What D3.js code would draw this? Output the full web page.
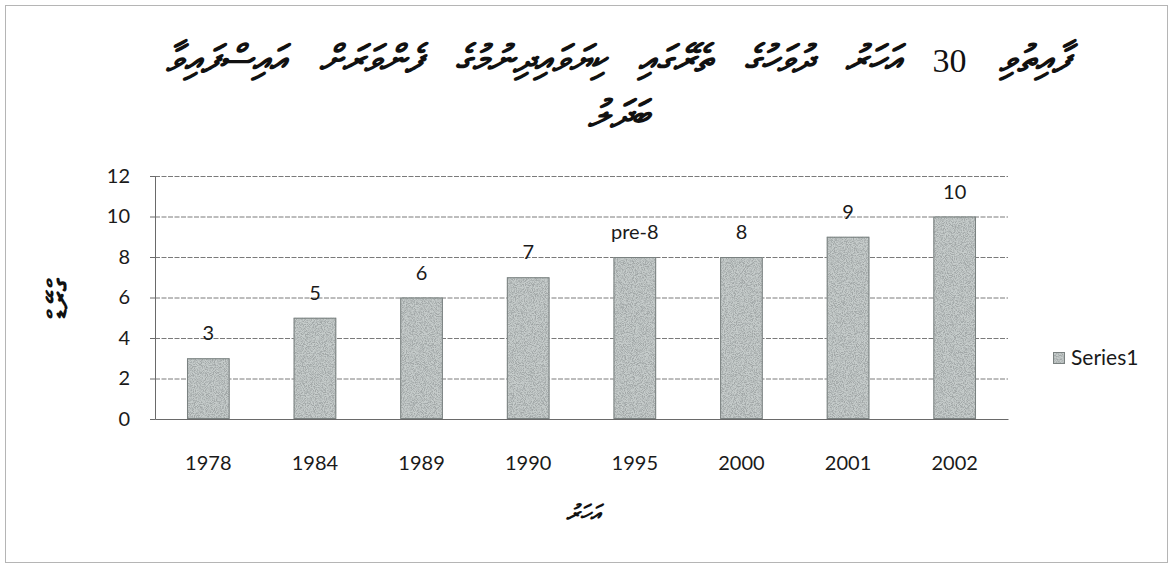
<!DOCTYPE html>
<html>
<head>
<meta charset="utf-8">
<script src="https://cdn.jsdelivr.net/npm/d3@7"></script>
<style>
  html, body { margin: 0; padding: 0; background: #ffffff; }
  svg { display: block; }
  .thaana { font-family: "MV Boli", "Faruma", "DejaVu Sans", "Noto Sans", sans-serif; }
  .lat { font-family: Lato, "Open Sans", "Liberation Sans", sans-serif; }
</style>
</head>
<body>
<svg id="chart" width="1174" height="569"></svg>
<script>
// ---- data ----
const categories = ["1978", "1984", "1989", "1990", "1995", "2000", "2001", "2002"];
const values = [3, 5, 6, 7, 8, 8, 9, 10];
const dataLabels = ["3", "5", "6", "7", "pre-8", "8", "9", "10"];
const yTicks = [0, 2, 4, 6, 8, 10, 12];
const seriesName = "Series1";
const titleParts = ["ފާއިތުވި ", "30", " އަހަރު ދުވަހުގެ ތެރޭގައި ކިޔަވައިދިނުމުގެ ފެންވަރަށް އައިސްފައިވާ"];
const titleLine2 = "ބަދަލު";
const xTitle = "އަހަރު";
const yTitle = "ގްރޭޑް";

const svg = d3.select("#chart");

// texture for bars
const defs = svg.append("defs");
const f = defs.append("filter").attr("id", "speckle").attr("x", 0).attr("y", 0).attr("width", 1).attr("height", 1);
f.append("feTurbulence").attr("type", "fractalNoise").attr("baseFrequency", 1.1).attr("numOctaves", 2).attr("seed", 7).attr("result", "noise");
f.append("feColorMatrix").attr("in", "noise").attr("type", "matrix")
  .attr("values", "0 0 0 0 0.36  0 0 0 0 0.39  0 0 0 0 0.39  0 0 0 -3.2 2.0").attr("result", "dots");
f.append("feFlood").attr("flood-color", "#c6cccb").attr("result", "base");
f.append("feComposite").attr("in", "dots").attr("in2", "base").attr("operator", "over").attr("result", "mix");
f.append("feComposite").attr("in", "mix").attr("in2", "SourceGraphic").attr("operator", "in");

// outer border
svg.append("rect").attr("x", 5.5).attr("y", 5.5).attr("width", 1162).attr("height", 557)
  .attr("fill", "none").attr("stroke", "#b5b5b5").attr("stroke-width", 1);

const x = d3.scaleBand().domain(categories).range([155, 1008]).paddingInner(0.6).paddingOuter(0.3);
const y = d3.scaleLinear().domain([0, 12]).range([419, 176]);

// gridlines
svg.append("g").selectAll("line").data(yTicks.filter(d => d > 0)).join("line")
  .attr("x1", 155).attr("x2", 1008)
  .attr("y1", d => y(d) + 0.5).attr("y2", d => y(d) + 0.5)
  .attr("stroke", "#7a7a7a").attr("stroke-width", 1).attr("stroke-dasharray", "5,1.5");

// y axis
const yAxis = svg.append("g").attr("transform", "translate(155,0)")
  .call(d3.axisLeft(y).tickValues(yTicks).tickSize(5).tickPadding(20));
yAxis.select(".domain").attr("stroke", "#6a6a6a");
yAxis.selectAll(".tick line").attr("stroke", "#6a6a6a");
yAxis.selectAll(".tick text").attr("class", "lat").attr("font-size", 20).attr("fill", "#1a1a1a");

// x axis
const xAxis = svg.append("g").attr("transform", "translate(0,419)")
  .call(d3.axisBottom(x).tickSize(0).tickPadding(37));
xAxis.select(".domain").attr("stroke", "#6a6a6a");
xAxis.selectAll(".tick text").attr("class", "lat").attr("font-size", 20).attr("fill", "#1a1a1a");

// bars
svg.append("g").selectAll("rect").data(categories).join("rect")
  .attr("x", d => x(d)).attr("width", x.bandwidth())
  .attr("y", (d, i) => y(values[i])).attr("height", (d, i) => y(0) - y(values[i]))
  .attr("fill", "#c4c9c8").attr("filter", "url(#speckle)");
svg.append("g").selectAll("rect").data(categories).join("rect")
  .attr("x", d => x(d) + 0.5).attr("width", x.bandwidth() - 1)
  .attr("y", (d, i) => y(values[i]) + 0.5).attr("height", (d, i) => y(0) - y(values[i]) - 1)
  .attr("fill", "none").attr("stroke", "#7a8180").attr("stroke-width", 1);

// data labels
svg.append("g").selectAll("text").data(categories).join("text")
  .attr("class", "lat")
  .attr("x", d => x(d) + x.bandwidth() / 2)
  .attr("y", (d, i) => y(values[i]) - 18)
  .attr("text-anchor", "middle").attr("font-size", 20).attr("fill", "#1a1a1a")
  .text((d, i) => dataLabels[i]);

// title line 1
const t1 = svg.append("text").attr("class", "thaana")
  .attr("x", 618).attr("y", 72)
  .attr("text-anchor", "middle").attr("direction", "rtl")
  .attr("font-size", 38).attr("font-style", "italic").attr("font-weight", "bold").attr("fill", "#111");
t1.selectAll("tspan").data(titleParts).join("tspan")
  .text(d => d)
  .each(function (d) {
    if (/^\d+$/.test(d)) {
      d3.select(this).attr("font-family", "'Liberation Serif', 'DejaVu Serif', serif")
        .attr("font-style", "normal").attr("font-weight", "normal").attr("font-size", 34);
    }
  });
const natural = t1.node().getComputedTextLength();
const gaps = titleParts.join("").split(" ").length - 1;
t1.attr("word-spacing", Math.max(0, (904 - natural) / gaps));

// title line 2
svg.append("text").attr("class", "thaana")
  .attr("x", 618).attr("y", 127)
  .attr("text-anchor", "middle").attr("direction", "rtl")
  .attr("font-size", 38).attr("font-style", "italic").attr("font-weight", "bold").attr("fill", "#111")
  .text(titleLine2);

// axis titles
svg.append("text").attr("class", "thaana")
  .attr("x", 583).attr("y", 521).attr("text-anchor", "middle").attr("direction", "rtl")
  .attr("font-size", 23).attr("font-style", "italic").attr("font-weight", "bold").attr("fill", "#111")
  .text(xTitle);
svg.append("text").attr("class", "thaana")
  .attr("transform", "translate(69,299) rotate(-90)")
  .attr("text-anchor", "middle").attr("direction", "rtl")
  .attr("font-size", 30).attr("font-weight", "bold").attr("fill", "#111")
  .text(yTitle);

// legend
const lg = svg.append("g").attr("transform", "translate(1053,352)");
lg.append("rect").attr("width", 12).attr("height", 12).attr("fill", "#c4c9c8").attr("filter", "url(#speckle)");
lg.append("rect").attr("x", 0.5).attr("y", 0.5).attr("width", 11).attr("height", 11).attr("fill", "none").attr("stroke", "#7a8180");
lg.append("text").attr("class", "lat").attr("x", 18).attr("y", 13).attr("font-size", 21).attr("fill", "#1a1a1a").text(seriesName);
</script>
</body>
</html>
